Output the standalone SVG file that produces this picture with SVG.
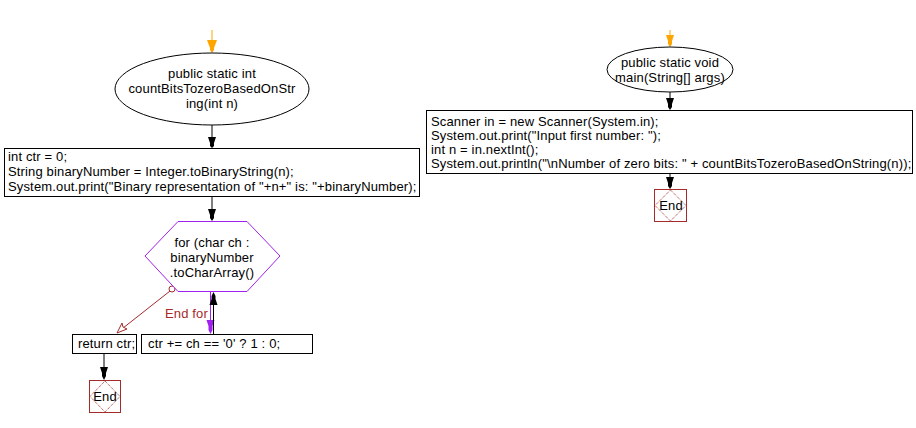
<svg xmlns="http://www.w3.org/2000/svg" width="916" height="428" viewBox="0 0 916 428">
<defs>
<style>
text{font-family:"Liberation Sans",Arial,sans-serif;font-size:13px;letter-spacing:0.15px;fill:#000}
.c{text-anchor:middle}
.box{fill:#fff;stroke:#000;stroke-width:1}
.ln{fill:none;stroke:#000;stroke-width:1}
.or{fill:none;stroke:#ffa500;stroke-width:1}
.pu{fill:none;stroke:#a020f0;stroke-width:1}
.rd{fill:none;stroke:#a52a2a;stroke-width:1}
.endb{fill:#fff;stroke:#a52a2a;stroke-width:1}
</style>
</defs>
<g id="connectors">
<line class="or" x1="212" y1="30" x2="212" y2="40"/>
<path d="M207,40 L217,40 L214,48 L214,50 L212,53 L210,50 L210,48 Z" fill="#ffa500"/>
<line class="ln" x1="212" y1="125" x2="212" y2="138"/>
<path d="M208,137 L216,137 L214,143 L214,146 L212,148 L210,146 L210,143 Z" fill="#000"/>
<line class="ln" x1="212" y1="196" x2="212" y2="210"/>
<path d="M208,209 L216,209 L214,215 L214,218 L212,221 L210,218 L210,215 Z" fill="#000"/>
<line class="pu" x1="210.5" y1="292" x2="210.5" y2="322"/>
<path d="M206.5,320 L214.5,320 L212.5,326 L212.5,330 L210.5,334 L208.5,330 L208.5,326 Z" fill="#a020f0"/>
<line class="ln" x1="213.5" y1="334" x2="213.5" y2="303"/>
<path d="M209.5,305 L217.5,305 L215.5,299 L215.5,296 L213.5,292 L211.5,296 L211.5,299 Z" fill="#000"/>
<circle cx="172" cy="289" r="3" fill="#fff" stroke="#a52a2a"/>
<line class="rd" x1="170" y1="291" x2="118" y2="332"/>
<path d="M117,333 L122,323 L123,327 L127,329 Z" fill="#fff" stroke="#a52a2a"/>
<text x="165" y="318" style="fill:#a52a2a">End for</text>
<line class="ln" x1="104" y1="353" x2="104" y2="368"/>
<path d="M100,367 L108,367 L106,373 L106,376 L104,380 L102,376 L102,373 Z" fill="#000"/>
<line class="or" x1="670" y1="30" x2="670" y2="36"/>
<path d="M666,35 L674,35 L672,41 L672,44 L670,47 L668,44 L668,41 Z" fill="#ffa500"/>
<line class="ln" x1="670" y1="92" x2="670" y2="99"/>
<path d="M666,98 L674,98 L672,104 L672,107 L670,110 L668,107 L668,104 Z" fill="#000"/>
<line class="ln" x1="670" y1="173" x2="670" y2="178"/>
<path d="M666,177 L674,177 L672,183 L672,186 L670,189 L668,186 L668,183 Z" fill="#000"/>
</g>
<g id="start1">
<ellipse cx="212" cy="89" rx="97" ry="36" class="box"/>
<text class="c" x="212" y="78">public static int</text>
<text class="c" x="212" y="93">countBitsTozeroBasedOnStr</text>
<text class="c" x="212" y="108">ing(int n)</text>
</g>
<g id="init">
<rect x="4.5" y="148.5" width="415" height="48" class="box"/>
<text x="8" y="161">int ctr = 0;</text>
<text x="8" y="176">String binaryNumber = Integer.toBinaryString(n);</text>
<text x="8" y="191">System.out.print("Binary representation of "+n+" is: "+binaryNumber);</text>
</g>
<g id="loop">
<path d="M178,221.5 L247,221.5 L280,256 L247,291.5 L178,291.5 L145,256 Z" fill="#fff" stroke="#a020f0"/>
<text class="c" x="212" y="247">for (char ch :</text>
<text class="c" x="212" y="262">binaryNumber</text>
<text class="c" x="212" y="277">.toCharArray()</text>
</g>
<g id="ret">
<rect x="72.5" y="334.5" width="64" height="19" class="box"/>
<text x="78" y="348">return ctr;</text>
</g>
<g id="body">
<rect x="141.5" y="334.5" width="171" height="19" class="box"/>
<text x="148" y="348">ctr += ch == '0' ? 1 : 0;</text>
</g>
<g id="end1">
<rect x="89.5" y="380.5" width="31" height="32" class="endb"/>
<path d="M105,381 L120,396.5 L105,412 L90,396.5 Z" fill="none" stroke="#a52a2a" stroke-dasharray="1,1"/>
<text class="c" x="105" y="401">End</text>
</g>
<g id="start2">
<ellipse cx="670" cy="69.5" rx="63" ry="22.5" class="box"/>
<text class="c" x="670" y="67">public static void</text>
<text class="c" x="670" y="82">main(String[] args)</text>
</g>
<g id="main">
<rect x="426.5" y="110.5" width="486" height="63" class="box"/>
<text x="431" y="126">Scanner in = new Scanner(System.in);</text>
<text x="431" y="140">System.out.print("Input first number: ");</text>
<text x="431" y="154">int n = in.nextInt();</text>
<text x="431" y="168">System.out.println("\nNumber of zero bits: " + countBitsTozeroBasedOnString(n));</text>
</g>
<g id="end2">
<rect x="654.5" y="189.5" width="32" height="32" class="endb"/>
<path d="M670.5,190 L686,205.5 L670.5,221 L655,205.5 Z" fill="none" stroke="#a52a2a" stroke-dasharray="1,1"/>
<text class="c" x="671" y="210">End</text>
</g>
</svg>
